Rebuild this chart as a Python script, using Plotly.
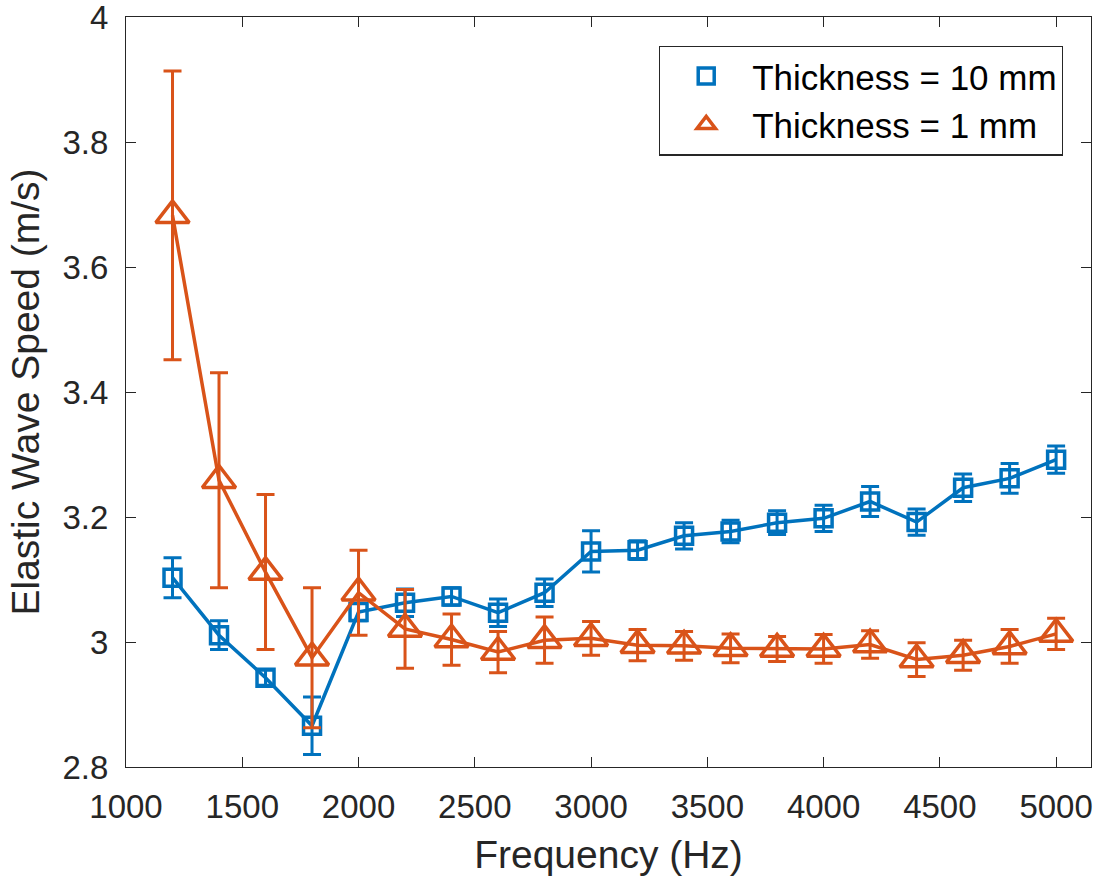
import plotly.graph_objects as go

freq = [1200, 1400, 1600, 1800, 2000, 2200, 2400, 2600, 2800, 3000,
        3200, 3400, 3600, 3800, 4000, 4200, 4400, 4600, 4800, 5000]

speed_10mm = [3.103, 3.011, 2.943, 2.866, 3.048, 3.063, 3.073, 3.047, 3.079, 3.145,
              3.147, 3.170, 3.177, 3.191, 3.198, 3.225, 3.192, 3.247, 3.262, 3.292]
err_10mm = [0.032, 0.023, 0.012, 0.046, 0.014, 0.022, 0.014, 0.022, 0.022, 0.033,
            0.015, 0.021, 0.018, 0.019, 0.021, 0.024, 0.021, 0.022, 0.024, 0.022]

speed_1mm = [3.683, 3.259, 3.112, 2.975, 3.079, 3.021, 3.004, 2.984, 3.003, 3.006,
             2.995, 2.994, 2.990, 2.989, 2.989, 2.996, 2.972, 2.979, 2.993, 3.013]
err_1mm = [0.231, 0.172, 0.124, 0.112, 0.068, 0.063, 0.041, 0.033, 0.037, 0.027,
           0.025, 0.023, 0.023, 0.020, 0.023, 0.022, 0.027, 0.024, 0.027, 0.025]

labels = ["Thickness = 10 mm", "Thickness = 1 mm"]

BLUE = "#0072BD"
ORANGE = "#D95319"
AX = "#262626"
FONT = "Liberation Sans, Arial, Helvetica, sans-serif"

fig = go.Figure()

fig.add_trace(go.Scatter(
    x=freq, y=speed_10mm, mode="lines+markers", showlegend=False,
    line=dict(color=BLUE, width=3.5),
    marker=dict(symbol="square-open", size=17, color=BLUE, line=dict(width=3.5, color=BLUE)),
    error_y=dict(type="data", array=err_10mm, visible=True, color=BLUE, thickness=3, width=9),
))
fig.add_trace(go.Scatter(
    x=freq, y=speed_1mm, mode="lines+markers", showlegend=False,
    line=dict(color=ORANGE, width=3.5),
    marker=dict(symbol="triangle-up-open", size=29, color=ORANGE, line=dict(width=3.5, color=ORANGE)),
    error_y=dict(type="data", array=err_1mm, visible=True, color=ORANGE, thickness=3, width=9),
))

# legend-only entries (marker only, as in the reference legend)
fig.add_trace(go.Scatter(
    x=[None], y=[None], mode="markers", name=labels[0],
    marker=dict(symbol="square-open", size=16, color=BLUE, line=dict(width=3.5, color=BLUE)),
))
fig.add_trace(go.Scatter(
    x=[None], y=[None], mode="markers", name=labels[1],
    marker=dict(symbol="triangle-up-open", size=16, color=ORANGE, line=dict(width=3.5, color=ORANGE)),
))

axis_common = dict(
    showline=True, linecolor=AX, linewidth=1.2, mirror="ticks",
    ticks="inside", ticklen=10, tickwidth=1.2, tickcolor=AX,
    showgrid=False, zeroline=False, ticklabeloverflow="allow", automargin=False,
    tickfont=dict(family=FONT, size=33, color=AX),
)

fig.update_layout(
    width=1099, height=884,
    margin=dict(l=126, r=8, t=17, b=117),
    paper_bgcolor="white", plot_bgcolor="white",
    font=dict(family=FONT, color=AX),
    xaxis=dict(
        range=[1000, 5150], tickvals=[1000, 1500, 2000, 2500, 3000, 3500, 4000, 4500, 5000],
        title=dict(text="Frequency (Hz)", font=dict(family=FONT, size=39, color=AX), standoff=16),
        ticklabelstandoff=10,
        **axis_common,
    ),
    yaxis=dict(
        range=[2.8, 4.0005], tickvals=[2.8, 3.0, 3.2, 3.4, 3.6, 3.8, 4.0],
        ticktext=["2.8", "3", "3.2", "3.4", "3.6", "3.8", "4"],
        title=dict(text="Elastic Wave Speed (m/s)", font=dict(family=FONT, size=39, color=AX), standoff=10),
        ticklabelstandoff=10,
        **axis_common,
    ),
    legend=dict(
        x=0.971, y=0.962, xanchor="right", yanchor="top",
        bgcolor="white", bordercolor=AX, borderwidth=1.2,
        font=dict(family=FONT, size=35, color="black"),
        itemwidth=82, tracegroupgap=0,
    ),
)

fig.write_html("out.html")
